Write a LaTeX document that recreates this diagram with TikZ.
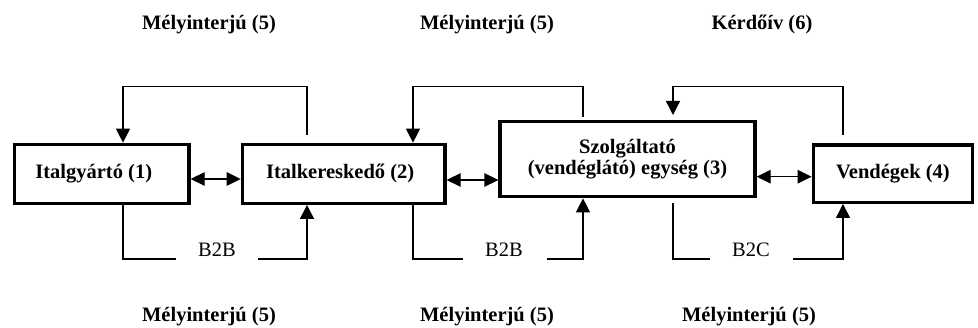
\documentclass[tikz,border=0pt]{standalone}
\usepackage{fontspec}
\setmainfont{Liberation Serif}
\usetikzlibrary{arrows.meta,calc}
\begin{document}
\begin{tikzpicture}[x=1pt,y=-1pt,
  box/.style={draw, line width=3.3pt, rectangle, inner sep=0pt,
    font=\bfseries\fontsize{20.5}{20.6}\selectfont, align=center},
  conn/.style={line width=1.3pt},
  tip/.style={-{Triangle[length=14pt,width=14pt]}},
  biarr/.style={line width=1.3pt,
    {Triangle[length=14pt,width=13.5pt]}-{Triangle[length=14pt,width=13.5pt]}},
  hdr/.style={font=\bfseries\fontsize{20.5}{24}\selectfont, inner sep=0pt, anchor=base},
  biz/.style={font=\fontsize{20.5}{24}\selectfont, inner sep=0pt, anchor=base}]
\useasboundingbox (0,0) rectangle (978,328);

% boxes
\node[box, minimum width=174.5pt, minimum height=59pt] (box1) at (101.75,173.8) {Italgyártó (1)\kern16pt};
\node[box, minimum width=202.7pt, minimum height=59pt] (box2) at (343.65,173.8) {Italkereskedő (2)\kern7pt};
\node[box, minimum width=255pt, minimum height=75pt] (box3) at (627.5,159.2) {Szolgáltató\\(vendéglátó) egység (3)};
\node[box, minimum width=159.2pt, minimum height=57.3pt] (box4) at (892.9,173.65) {Vendégek (4)};

% two-way arrows
\coordinate (ya) at (0,179);
\coordinate (yb) at (0,180);
\coordinate (yc) at (0,176.7);
\draw[biarr] (box1.east |- ya) -- (box2.west |- ya);
\draw[biarr] (box2.east |- yb) -- (box3.west |- yb);
\draw[biarr] (box3.east |- yc) -- (box4.west |- yc);

% top feedback loops
\coordinate (a1) at (307,135);
\coordinate (a2) at (123,86.7);
\draw[conn,tip] (a1) |- (a2) -- (a2 |- box1.north);
\coordinate (b1) at (583,116.7);
\coordinate (b2) at (413,86.7);
\draw[conn,tip] (b1) |- (b2) -- (b2 |- box2.north);
\coordinate (c1) at (843,135);
\coordinate (c2) at (673,86.7);
\coordinate (c3) at (673,115);
\draw[conn,tip] (c1) |- (c2) -- (c3);

% bottom loops
\coordinate (d1) at (123,259);
\coordinate (d2) at (176,259);
\coordinate (d3) at (258,259);
\coordinate (d4) at (307,259);
\draw[conn] (d1 |- box1.south) -- (d1) -- (d2);
\draw[conn,tip] (d3) -- (d4) -- (d4 |- box2.south);
\coordinate (e1) at (413,259);
\coordinate (e2) at (463,259);
\coordinate (e3) at (547,259);
\coordinate (e4) at (583,259);
\draw[conn] (e1 |- box2.south) -- (e1) -- (e2);
\draw[conn,tip] (e3) -- (e4) -- (e4 |- box3.south);
\coordinate (f0) at (673,203);
\coordinate (f1) at (673,259);
\coordinate (f2) at (710,259);
\coordinate (f3) at (793,259);
\coordinate (f4) at (843,259);
\draw[conn] (f0) -- (f1) -- (f2);
\draw[conn,tip] (f3) -- (f4) -- (f4 |- box4.south);

% labels
\node[biz] (l1) at (217,256.7) {B2B};
\node[biz] (l2) at (504,256.7) {B2B};
\node[biz] (l3) at (751,256.7) {B2C};

\node[hdr] (h1) at (209,30) {Mélyinterjú (5)};
\node[hdr] (h2) at (487,30) {Mélyinterjú (5)};
\node[hdr] (h3) at (762,30) {Kérdőív (6)};
\node[hdr] (m1) at (209,321.5) {Mélyinterjú (5)};
\node[hdr] (m2) at (487,321.5) {Mélyinterjú (5)};
\node[hdr] (m3) at (749,321.5) {Mélyinterjú (5)};
\end{tikzpicture}
\end{document}
